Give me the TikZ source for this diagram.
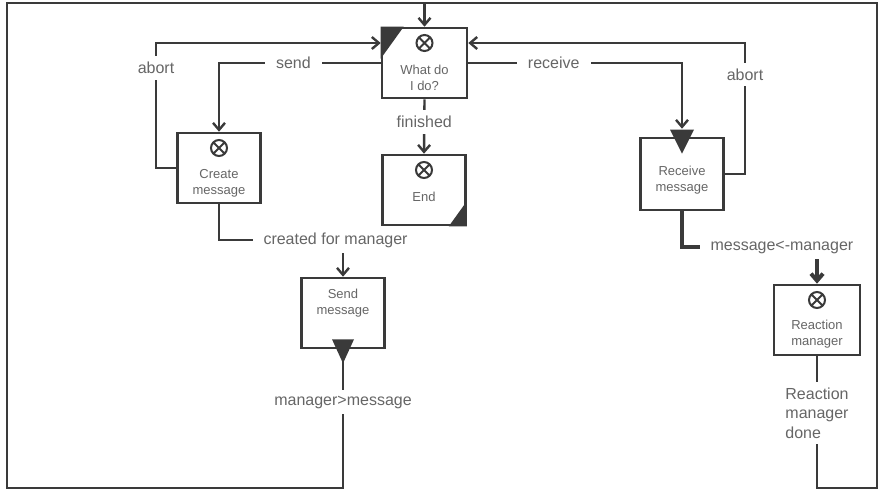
\documentclass[tikz,border=0pt]{standalone}
\usepackage{fontspec}
\setmainfont{Liberation Sans}
\usepackage{xcolor}
\usetikzlibrary{arrows.meta,positioning,calc}

\definecolor{wire}{HTML}{3A3A3A}
\definecolor{ink}{HTML}{666666}

\begin{document}
\begin{tikzpicture}[
    x=1pt, y=-1pt,
    stepbox/.style={draw=wire, line width=2.6pt, fill=white, minimum width=83pt, minimum height=70pt, inner sep=0pt},
    xorbox/.style={stepbox, path picture={
        \coordinate (pp) at ([yshift=-15pt]path picture bounding box.north);
        \draw[wire, line width=2pt] (pp) circle (8pt)
            ([shift={(-5.7pt,-5.7pt)}]pp) -- ([shift={(5.7pt,5.7pt)}]pp)
            ([shift={(-5.7pt,5.7pt)}]pp) -- ([shift={(5.7pt,-5.7pt)}]pp);}},
    boxtxt/.style={font=\fontsize{13}{16}\selectfont, text=ink, align=center},
    lab/.style={font=\fontsize{16}{19.5}\selectfont, text=ink, fill=white, inner xsep=11pt, inner ysep=6pt},
    flow/.style={draw=wire, line width=2.4pt, -{Straight Barb[length=7pt, width=12pt]}},
    wireline/.style={draw=wire, line width=2.4pt}
]
\useasboundingbox (0,0) rectangle (885,491);

% activities
\node[xorbox, minimum width=85pt, label={[boxtxt, yshift=-15pt]center:What do\\I do?}] (what) at (424.5,63) {};
\node[xorbox, label={[boxtxt, yshift=-15pt]center:Create\\message}] (create) at (219,168) {};
\node[xorbox, label={[boxtxt, yshift=-7pt]center:End}] (finish) at (424,190) {};
\node[stepbox, minimum height=72pt, label={[boxtxt, yshift=-6pt]center:Receive\\message}] (receive) at (682,174) {};
\node[stepbox, label={[boxtxt, yshift=10pt]center:Send\\message}] (send) at (343,313) {};
\node[xorbox, minimum width=86pt, label={[boxtxt, yshift=-14pt]center:Reaction\\manager}] (react) at (817,320) {};

\fill[wire] (what.north west) -- ++(23,0) -- ++(-23,32) -- cycle;
\fill[wire] (finish.south east) -- ++(0,-25) -- ++(-18,25) -- cycle;

% frame loops
\coordinate (tl) at (7,3);
\coordinate (bl) at (7,488);
\coordinate (tr) at (877,3);
\coordinate (br) at (877,488);
\coordinate (abortL) at (156,43);
\coordinate (abortR) at (745,43);

\draw[flow] (send.south) -- node[lab, pos=0.38] {manager>message} (send.south |- bl) -- (bl) -- (tl) -- (what.north |- tl) -- (what.north);
\draw[wireline] (react.south) -- node[lab, align=left, pos=0.43] {Reaction\\manager\\done} (react.south |- br) -- (br) -- (tr) -- (what.north |- tr);

% choices
\draw[flow] (what.west) -| node[lab, pos=0.27] {send} (create.north);
\draw[flow] (what.east) -| node[lab, pos=0.2] {receive} ([yshift=8pt]receive.north);
\draw[flow] (what.south) -- node[lab, pos=0.42] {finished} (finish.north);
\draw[flow] (create.west) -| node[lab, pos=0.9] {abort} (abortL) -- ([yshift=20pt]what.west);
\draw[flow] (receive.east) -| node[lab, pos=0.88] {abort} (abortR) -- ([yshift=20pt]what.east);

% messages
\draw[flow] (create.south) |- node[lab, pos=0.97] {created for manager} (send.north |- 0,240) -- (send.north);
\draw[flow, line width=4pt] (receive.south) |- node[lab, pos=0.87] {message<-manager} (react.north |- 0,247) -- (react.north);

\fill[wire] ([yshift=7pt]receive.north) ++(-12,0) -- ++(24,0) -- ++(-12,24) -- cycle;
\fill[wire] ([yshift=10pt]send.south) ++(-11,0) -- ++(22,0) -- ++(-11,24) -- cycle;
\end{tikzpicture}
\end{document}
